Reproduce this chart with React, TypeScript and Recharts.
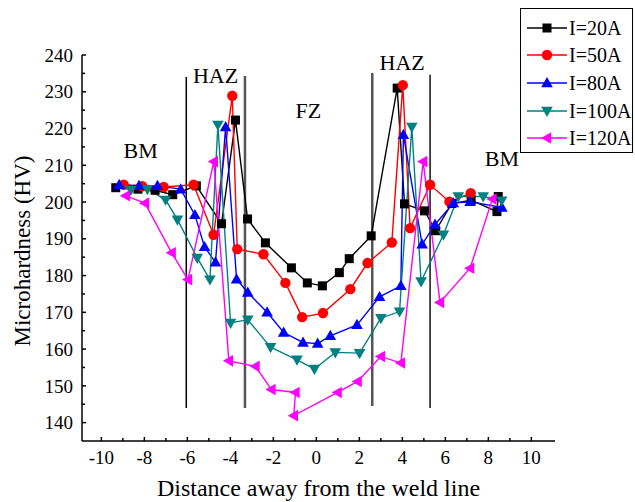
import React from 'react';
import { LineChart, Line, XAxis, YAxis, ReferenceLine, ReferenceDot, Legend, Label } from 'recharts';

const serif = '"Liberation Serif", "Times New Roman", serif';

const xTicks = [-10, -9, -8, -7, -6, -5, -4, -3, -2, -1, 0, 1, 2, 3, 4, 5, 6, 7, 8, 9, 10];
const xLabels = [-10, -8, -6, -4, -2, 0, 2, 4, 6, 8, 10];
const yTicks = [140, 145, 150, 155, 160, 165, 170, 175, 180, 185, 190, 195, 200, 205, 210, 215, 220, 225, 230, 235, 240];
const yLabels = [140, 150, 160, 170, 180, 190, 200, 210, 220, 230, 240];

// [distance, hardness]
const i20: [number, number][] = [
  [-9.33, 203.9], [-8.3, 203.5], [-7.5, 203.2], [-6.68, 202.0], [-5.58, 204.4], [-4.41, 194.1],
  [-3.76, 222.3], [-3.2, 195.4], [-2.37, 188.9], [-1.16, 182.1], [-0.42, 178.0], [0.28, 177.2],
  [1.07, 180.8], [1.53, 184.6], [2.55, 190.8], [3.76, 231.0], [4.1, 199.5], [5.03, 197.6],
  [5.55, 192.2], [6.3, 199.6], [7.2, 200.5], [8.4, 197.4], [8.46, 201.5],
];
const i50: [number, number][] = [
  [-8.96, 204.7], [-8.1, 204.3], [-7.1, 204.1], [-5.71, 204.7], [-4.78, 191.1], [-3.91, 228.9],
  [-3.68, 187.2], [-2.46, 185.8], [-1.44, 178.0], [-0.66, 168.7], [0.31, 169.8], [1.58, 176.3],
  [2.38, 183.4], [3.51, 189.0], [4.02, 231.8], [4.36, 192.9], [5.29, 204.7], [6.19, 200.1],
  [7.18, 202.4],
];
const i80: [number, number][] = [
  [-9.17, 204.7], [-8.25, 204.4], [-7.39, 204.4], [-6.31, 203.5], [-5.65, 196.5], [-5.2, 187.8],
  [-4.69, 183.6], [-4.22, 220.4], [-3.71, 179.0], [-3.19, 175.4], [-2.29, 170.0], [-1.52, 164.5],
  [-0.62, 161.8], [0.06, 161.5], [0.65, 163.6], [1.89, 166.6], [2.94, 174.2], [3.93, 177.2],
  [4.05, 218.3], [4.92, 188.5], [5.52, 193.9], [6.37, 199.7], [7.15, 200.1], [8.63, 198.5],
];
const i100: [number, number][] = [
  [-8.63, 203.3], [-7.86, 203.5], [-7.01, 200.6], [-6.46, 195.2], [-5.54, 184.8], [-4.95, 178.9],
  [-4.58, 221.0], [-3.99, 167.1], [-3.19, 168.0], [-2.13, 160.5], [-0.9, 157.1], [-0.09, 154.6],
  [0.88, 159.1], [2.01, 158.9], [3.0, 168.4], [3.87, 170.2], [4.44, 220.4], [4.87, 178.4],
  [5.91, 191.1], [6.6, 201.5], [7.76, 201.5], [8.62, 200.4],
];
const i120: [number, number][] = [
  [-8.86, 201.7], [-7.97, 199.7], [-6.73, 186.2], [-5.97, 178.9], [-4.77, 211.0], [-4.07, 156.8],
  [-2.83, 155.3], [-2.09, 149.0], [-0.97, 148.2], [-1.05, 141.9], [0.99, 148.2], [1.92, 151.2],
  [3.0, 158.0], [3.93, 156.2], [4.97, 211.0], [5.75, 172.7], [7.15, 182.0], [8.19, 200.8],
];

const seriesData = [i20, i50, i80, i100, i120];
const seriesNames = ['I=20A', 'I=50A', 'I=80A', 'I=100A', 'I=120A'];
const seriesColors = ['#000000', '#ff0000', '#0000ff', '#008080', '#ff00ff'];
const seriesMarkers = ['square', 'circle', 'up', 'down', 'left'];

const zoneNames = ['BM', 'HAZ', 'FZ', 'HAZ', 'BM'];
const zoneX = [-8.17, -4.69, -0.37, 3.99, 8.63];
const zoneY = [214.2, 234.6, 225.0, 238.1, 212.0];

const boundaryX = [-6.05, -3.32, 2.6, 5.29];
const boundaryTop = [234.0, 234.3, 235.1, 234.6];
const boundaryBottom = [144.0, 144.0, 144.5, 144.0];
const boundaryColor = ['#000', '#555', '#555', '#111'];
const boundaryWidth = [1.5, 2.5, 2.5, 1.5];

function Marker({ kind, cx, cy, color }: { kind: string; cx: number; cy: number; color: string }) {
  if (cx == null || cy == null || isNaN(cx) || isNaN(cy)) return null;
  if (kind === 'square') return <rect x={cx - 4.5} y={cy - 4.5} width={9} height={9} fill={color} />;
  if (kind === 'circle') return <circle cx={cx} cy={cy} r={5.2} fill={color} />;
  let pts = '';
  if (kind === 'up') pts = `${cx},${cy - 6} ${cx - 5.8},${cy + 4.2} ${cx + 5.8},${cy + 4.2}`;
  if (kind === 'down') pts = `${cx},${cy + 6} ${cx - 5.8},${cy - 4.2} ${cx + 5.8},${cy - 4.2}`;
  if (kind === 'left') pts = `${cx - 6},${cy} ${cx + 4.2},${cy - 5.8} ${cx + 4.2},${cy + 5.8}`;
  return <polygon points={pts} fill={color} />;
}

const XTick = (props: any) => {
  const { x, y, payload } = props;
  const major = xLabels.includes(payload.value);
  const ay = y - 10;
  return (
    <g>
      <line x1={x} x2={x} y1={ay} y2={ay - (major ? 4 : 3)} stroke="#000" strokeWidth={1.5} />
      {major && (
        <text x={x} y={y} dy="0.71em" textAnchor="middle" fontSize={19} fontFamily={serif} fill="#000">
          {payload.value}
        </text>
      )}
    </g>
  );
};

const YTick = (props: any) => {
  const { x, y, payload } = props;
  const major = yLabels.includes(payload.value);
  const ax = x + 9;
  return (
    <g>
      <line x1={ax} x2={ax + (major ? 4 : 3)} y1={y} y2={y} stroke="#000" strokeWidth={1.5} />
      {major && (
        <text x={x} y={y} dy="0.35em" textAnchor="end" fontSize={19} fontFamily={serif} fill="#000">
          {payload.value}
        </text>
      )}
    </g>
  );
};

const LegendBox = () => (
  <div
    style={{
      border: '1.5px solid #000',
      boxSizing: 'border-box',
      width: 113,
      height: 145,
      padding: '5px 0 0 6px',
      background: '#fff',
    }}
  >
    {seriesNames.map((name, i) => (
      <div key={name} style={{ display: 'flex', alignItems: 'center', height: 27.6 }}>
        <svg width={42} height={14}>
          <line x1={0} x2={40} y1={7} y2={7} stroke={seriesColors[i]} strokeWidth={1.5} />
          <Marker kind={seriesMarkers[i]} cx={20} cy={7} color={seriesColors[i]} />
        </svg>
        <span style={{ fontFamily: serif, fontSize: 20, color: '#000', lineHeight: '20px' }}>{name}</span>
      </div>
    ))}
  </div>
);

export default function App() {
  return (
    <div style={{ position: 'absolute', left: 0, top: 0, width: 635, height: 502, overflow: 'hidden', background: '#fff' }}>
      <LineChart width={635} height={502} margin={{ top: 55, right: 80, bottom: 0, left: 0 }}>
        <XAxis
          type="number"
          dataKey="x"
          domain={[-10.9, 11.1]}
          ticks={xTicks}
          interval={0}
          allowDataOverflow
          height={61}
          tickSize={0}
          tickMargin={10}
          tickLine={false}
          axisLine={{ stroke: '#000', strokeWidth: 1.5 }}
          tick={<XTick />}
        >
          <Label
            value="Distance away from the weld line"
            position="center"
            dy={16}
            style={{ fontSize: 24, fontFamily: serif, fill: '#000' }}
          />
        </XAxis>
        <YAxis
          type="number"
          dataKey="y"
          domain={[135, 240]}
          ticks={yTicks}
          interval={0}
          allowDataOverflow
          width={82}
          tickSize={0}
          tickMargin={9}
          tickLine={false}
          axisLine={{ stroke: '#000', strokeWidth: 1.5 }}
          tick={<YTick />}
        >
          <Label
            value="Microhardness (HV)"
            angle={-90}
            position="center"
            dx={-19}
            dy={3}
            style={{ fontSize: 23, fontFamily: serif, fill: '#000' }}
          />
        </YAxis>
        {boundaryX.map((bx, i) => (
          <ReferenceLine
            key={'b' + i}
            segment={[{ x: bx, y: boundaryTop[i] }, { x: bx, y: boundaryBottom[i] }]}
            stroke={boundaryColor[i]}
            strokeWidth={boundaryWidth[i]}
            ifOverflow="visible"
          />
        ))}
        {zoneNames.map((z, i) => (
          <ReferenceDot
            key={'z' + i}
            x={zoneX[i]}
            y={zoneY[i]}
            r={0}
            ifOverflow="visible"
            shape={(p: any) => (
              <text x={p.cx} y={p.cy} dy="0.35em" textAnchor="middle" fontSize={22} fontFamily={serif} fill="#000">
                {z}
              </text>
            )}
          />
        ))}
        {seriesData.map((d, i) => (
          <Line
            key={seriesNames[i]}
            name={seriesNames[i]}
            data={d.map(([x, y]) => ({ x, y }))}
            dataKey="y"
            stroke={seriesColors[i]}
            strokeWidth={1.4}
            isAnimationActive={false}
            dot={(p: any) => <Marker key={p.key ?? p.index} kind={seriesMarkers[i]} cx={p.cx} cy={p.cy} color={seriesColors[i]} />}
            activeDot={false}
          />
        ))}
        <Legend
          layout="horizontal"
          verticalAlign="middle"
          align="center"
          content={() => <LegendBox />}
          wrapperStyle={{ left: 520, top: 8, width: 113, height: 145 }}
        />
      </LineChart>
    </div>
  );
}
